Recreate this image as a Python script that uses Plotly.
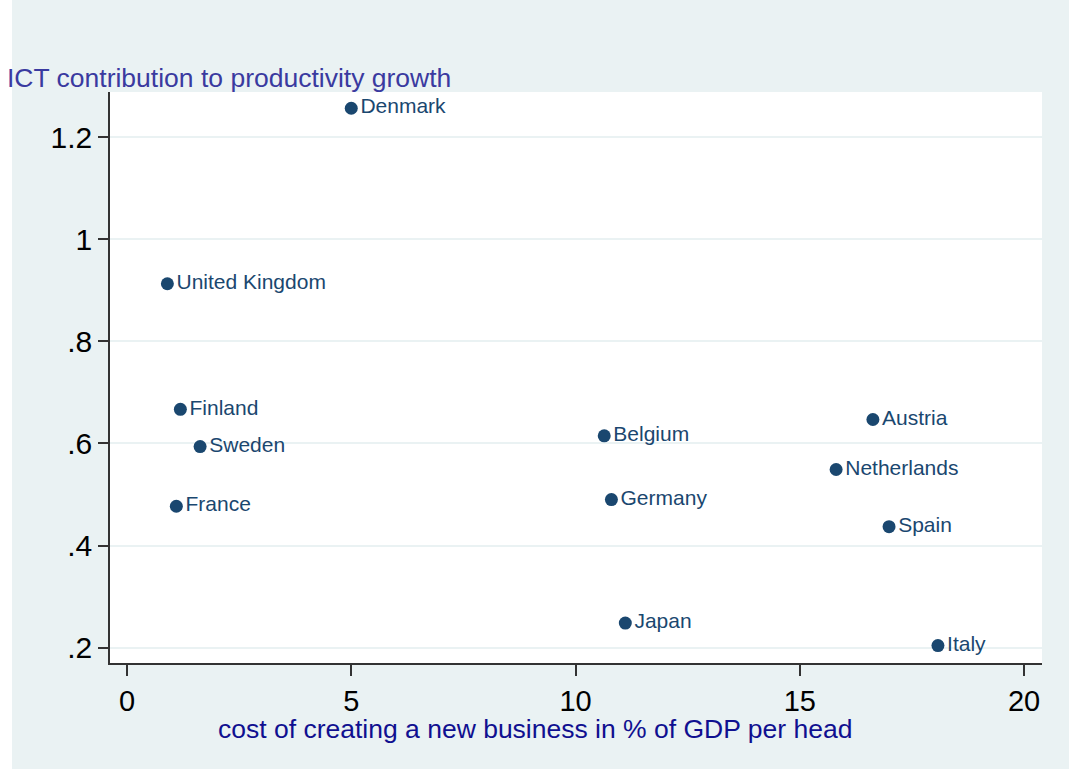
import plotly.graph_objects as go

countries = ["Denmark", "United Kingdom", "Finland", "Sweden", "France", "Belgium",
             "Germany", "Japan", "Austria", "Netherlands", "Spain", "Italy"]
cost_new_business = [5.0, 0.90, 1.19, 1.63, 1.10, 10.64, 10.80, 11.11, 16.63, 15.81, 16.99, 18.08]
ict_contribution = [1.257, 0.913, 0.667, 0.594, 0.477, 0.615, 0.490, 0.248, 0.647, 0.549, 0.437, 0.204]

x_ticks = [0, 5, 10, 15, 20]
x_ticktext = ["0", "5", "10", "15", "20"]
y_ticks = [0.2, 0.4, 0.6, 0.8, 1.0, 1.2]
y_ticktext = [".2", ".4", ".6", ".8", "1", "1.2"]

BG = "#EAF2F3"
MARK = "#1A476F"
FONT = "Liberation Sans, Arial, Helvetica, sans-serif"

fig = go.Figure()
fig.add_trace(go.Scatter(
    x=cost_new_business, y=ict_contribution, text=countries,
    mode="markers+text", textposition="middle right",
    marker=dict(size=13, color=MARK),
    textfont=dict(family=FONT, size=21, color=MARK),
    hoverinfo="skip", showlegend=False, cliponaxis=False,
))

W, H = 1069, 769
ml, mr, mt, mb = 110, 27, 92, 106
pw, ph = W - ml - mr, H - mt - mb

def px_x(p):
    return (p - ml) / pw

def px_y(p):
    return (H - mb - p) / ph

fig.update_layout(
    width=W, height=H,
    margin=dict(l=ml, r=mr, t=mt, b=mb, pad=0),
    paper_bgcolor=BG, plot_bgcolor="white",
    font=dict(family=FONT, color="black"),
    xaxis=dict(range=[-0.379, 20.40], tickvals=x_ticks, ticktext=x_ticktext,
               showgrid=False, zeroline=False, showline=True, linecolor="#333333", linewidth=1.5,
               ticks="outside", ticklen=11, tickcolor="#333333", tickwidth=1.5,
               tickfont=dict(size=29, color="black")),
    yaxis=dict(range=[0.1698, 1.2888], tickvals=y_ticks, ticktext=y_ticktext,
               showgrid=True, gridcolor=BG, gridwidth=2, zeroline=False,
               showline=True, linecolor="#333333", linewidth=1.5,
               ticks="outside", ticklen=10, tickcolor="#333333", tickwidth=1.5,
               tickfont=dict(size=30, color="black")),
    shapes=[dict(type="rect", xref="paper", yref="paper",
                 x0=px_x(0), x1=px_x(12), y0=px_y(H), y1=px_y(0),
                 fillcolor="white", line=dict(width=0), layer="below")],
    annotations=[
        dict(text="ICT contribution to productivity growth", xref="paper", yref="paper",
             x=px_x(5), y=px_y(78), xanchor="left", yanchor="middle", showarrow=False,
             font=dict(family=FONT, size=26.5, color="#3a3aa0")),
        dict(text="cost of creating a new business in % of GDP per head", xref="paper", yref="paper",
             x=px_x(535), y=px_y(729), xanchor="center", yanchor="middle", showarrow=False,
             font=dict(family=FONT, size=26.5, color="#101090")),
    ],
)

fig.write_html("out.html", config={"displayModeBar": False},
               post_script="document.body.style.margin='0';")
